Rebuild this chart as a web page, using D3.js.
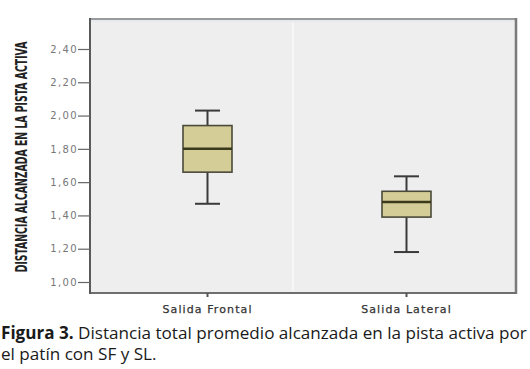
<!DOCTYPE html>
<html>
<head>
<meta charset="utf-8">
<script src="https://cdnjs.cloudflare.com/ajax/libs/d3/7.8.5/d3.min.js"></script>
<style>
  body { margin: 0; background: #fff; }
  svg { display: block; }
</style>
</head>
<body>
<div id="chart-area"></div>
<script>
// datos
const categories = ["Salida Frontal", "Salida Lateral"]
const whiskerLow = [1.47, 1.18]
const q1 = [1.66, 1.39]
const medians = [1.80, 1.48]
const q3 = [1.94, 1.545]
const whiskerHigh = [2.03, 1.635]
const yTicks = [1.0, 1.2, 1.4, 1.6, 1.8, 2.0, 2.2, 2.4]

const W = 530
const H = 369
const FRAME = { left: 90, right: 516, top: 19, bottom: 293 }

const svg = d3.select("#chart-area").append("svg")
    .attr("width", W)
    .attr("height", H)

const y = d3.scaleLinear()
    .domain([1.0, 2.4])
    .range([282, 49])

const x = d3.scaleBand()
    .domain(categories)
    .range([108, 506])

const cx = d => x(d) + x.bandwidth() / 2

// fondo del grafico
svg.append("rect")
    .attr("x", FRAME.left)
    .attr("y", FRAME.top)
    .attr("width", FRAME.right - FRAME.left)
    .attr("height", FRAME.bottom - FRAME.top)
    .attr("fill", "#eeeeee")

// separador entre categorias
svg.append("line")
    .attr("x1", 293).attr("x2", 293)
    .attr("y1", FRAME.top + 4).attr("y2", FRAME.bottom - 2)
    .attr("stroke", "#fafafa")
    .attr("stroke-width", 1.5)

// marco
svg.append("line")
    .attr("x1", FRAME.left).attr("x2", FRAME.right)
    .attr("y1", FRAME.top).attr("y2", FRAME.top)
    .attr("stroke", "#9a9a9a").attr("stroke-width", 2)
svg.append("line")
    .attr("x1", FRAME.left).attr("x2", FRAME.right)
    .attr("y1", FRAME.top + 2).attr("y2", FRAME.top + 2)
    .attr("stroke", "#dde6ee").attr("stroke-width", 1)
svg.append("line")
    .attr("x1", FRAME.right).attr("x2", FRAME.right)
    .attr("y1", FRAME.top - 1).attr("y2", FRAME.bottom + 1)
    .attr("stroke", "#7a7a7a").attr("stroke-width", 2.5)
svg.append("line")
    .attr("x1", FRAME.left).attr("x2", FRAME.right)
    .attr("y1", FRAME.bottom).attr("y2", FRAME.bottom)
    .attr("stroke", "#6e6e6e").attr("stroke-width", 2)
svg.append("line")
    .attr("x1", FRAME.left).attr("x2", FRAME.left)
    .attr("y1", FRAME.top - 1).attr("y2", FRAME.bottom + 1)
    .attr("stroke", "#5a5a5a").attr("stroke-width", 2)

// eje y
const yAxisCall = d3.axisLeft(y)
    .tickValues(yTicks)
    .tickSize(12)
    .tickPadding(0)
    .tickFormat(d => d3.format(".2f")(d).replace(".", ","))
const yAxis = svg.append("g")
    .attr("class", "y axis")
    .attr("transform", `translate(${FRAME.left}, 0)`)
    .call(yAxisCall)
yAxis.select(".domain").remove()
yAxis.selectAll("line").attr("stroke", "#666").attr("stroke-width", 1.2)
yAxis.selectAll("text")
    .attr("fill", "#777")
    .attr("font-size", "10px")
    .attr("letter-spacing", "1.4px")
    .attr("font-family", "DejaVu Sans, sans-serif")

// eje x
const xAxisCall = d3.axisBottom(x)
    .tickSize(4)
    .tickPadding(8)
const xAxis = svg.append("g")
    .attr("class", "x axis")
    .attr("transform", `translate(0, ${FRAME.bottom})`)
    .call(xAxisCall)
xAxis.select(".domain").remove()
xAxis.selectAll("line").attr("stroke", "#555").attr("stroke-width", 2)
xAxis.selectAll("text")
    .attr("fill", "#333")
    .attr("font-size", "11px")
    .attr("letter-spacing", "1.1px")
    .attr("stroke", "#333")
    .attr("stroke-width", 0.25)
    .attr("font-family", "DejaVu Sans, sans-serif")

// titulo eje y
const yTitle = svg.append("text")
    .attr("text-anchor", "middle")
    .attr("font-family", "Liberation Sans Narrow, DejaVu Sans Condensed, sans-serif")
    .attr("font-weight", "bold")
    .attr("font-size", "15px")
    .attr("fill", "#222")
    .text("DISTANCIA ALCANZADA EN LA PISTA ACTIVA")
const titleLen = yTitle.node().getComputedTextLength()
yTitle.attr("transform", `translate(27, 157) rotate(-90) scale(${231 / titleLen}, 1)`)

// cajas
const boxW = 49
const capW = 25
const boxes = svg.append("g").selectAll("g")
    .data(categories)
    .enter().append("g")

boxes.append("line")
    .attr("x1", d => cx(d)).attr("x2", d => cx(d))
    .attr("y1", (d, i) => y(whiskerLow[i]))
    .attr("y2", (d, i) => y(whiskerHigh[i]))
    .attr("stroke", "#3a3a3a").attr("stroke-width", 2)

boxes.append("line")
    .attr("x1", d => cx(d) - capW / 2).attr("x2", d => cx(d) + capW / 2)
    .attr("y1", (d, i) => y(whiskerHigh[i]))
    .attr("y2", (d, i) => y(whiskerHigh[i]))
    .attr("stroke", "#3a3a3a").attr("stroke-width", 2)

boxes.append("line")
    .attr("x1", d => cx(d) - capW / 2).attr("x2", d => cx(d) + capW / 2)
    .attr("y1", (d, i) => y(whiskerLow[i]))
    .attr("y2", (d, i) => y(whiskerLow[i]))
    .attr("stroke", "#3a3a3a").attr("stroke-width", 2)

boxes.append("rect")
    .attr("x", d => cx(d) - boxW / 2)
    .attr("y", (d, i) => y(q3[i]))
    .attr("width", boxW)
    .attr("height", (d, i) => y(q1[i]) - y(q3[i]))
    .attr("fill", "#d5cd97")
    .attr("stroke", "#4a4a3a")
    .attr("stroke-width", 1.6)

boxes.append("line")
    .attr("x1", d => cx(d) - boxW / 2).attr("x2", d => cx(d) + boxW / 2)
    .attr("y1", (d, i) => y(medians[i]))
    .attr("y2", (d, i) => y(medians[i]))
    .attr("stroke", "#3b3a1c").attr("stroke-width", 2.5)

// pie de figura, ajustado al ancho de la pagina
const cap = svg.append("g")
    .attr("font-family", "Open Sans, sans-serif")
    .attr("font-size", "14.5px")
    .attr("fill", "#1a1a1a")
const l1 = cap.append("text").attr("x", 1).attr("y", 339)
l1.append("tspan").attr("font-weight", "bold").text("Figura 3.")
l1.append("tspan").text(" Distancia total promedio alcanzada en la pista activa por")
const l2 = cap.append("text").attr("x", 1).attr("y", 360)
    .text("el patín con SF y SL.")
const capLen = l1.node().getComputedTextLength()
cap.attr("font-size", (14.5 * 526 / capLen).toFixed(2) + "px")
</script>
</body>
</html>
